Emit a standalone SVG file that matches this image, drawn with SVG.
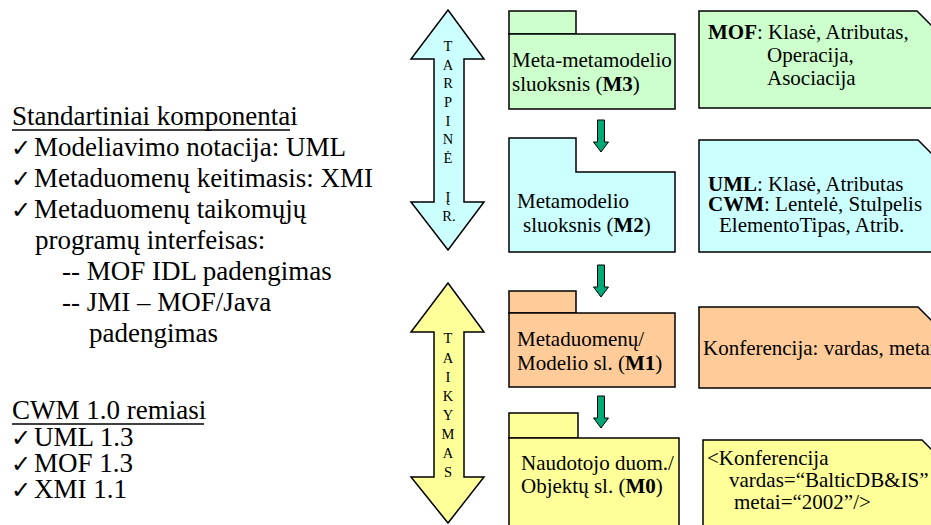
<svg xmlns="http://www.w3.org/2000/svg" width="931" height="525" viewBox="0 0 931 525">
  <style>
    text { font-family: "Liberation Serif", "Times New Roman", serif; fill: #000; }
    .big { font-size: 27px; }
    .box { font-size: 21px; }
    .vert { font-size: 14.5px; text-anchor: middle; }
    .chk { font-family: "DejaVu Sans", sans-serif; font-size: 24px; font-weight: bold; }
    .b { font-weight: bold; }
    .edge { stroke: #000; stroke-width: 1.5; }
    .m3 { fill: #ccffcc; }
    .m2 { fill: #ccffff; }
    .m1 { fill: #ffcc99; }
    .m0 { fill: #ffff99; }
    .flow { fill: #00a878; stroke: #000; stroke-width: 1; }
  </style>
  <defs>
    <!-- small downward block arrow between levels -->
    <path id="down" d="M-3.5,0 H3.5 V22 H7.5 L0,32 L-7.5,22 H-3.5 Z"/>
  </defs>

  <!-- left column: component lists -->
  <g id="standards">
    <text class="big" x="12" y="125">Standartiniai komponentai</text>
    <line x1="12" y1="130" x2="290" y2="130" stroke="#000" stroke-width="1.5"/>
    <text class="chk" x="11" y="156">✓</text>
    <text class="big" x="34" y="156">Modeliavimo notacija: UML</text>
    <text class="chk" x="11" y="187">✓</text>
    <text class="big" x="34" y="187">Metaduomenų keitimasis: XMI</text>
    <text class="chk" x="11" y="218">✓</text>
    <text class="big" x="34" y="218">Metaduomenų taikomųjų</text>
    <text class="big" x="35" y="249">programų interfeisas:</text>
    <text class="big" x="62" y="280">-- MOF IDL padengimas</text>
    <text class="big" x="62" y="311">-- JMI – MOF/Java</text>
    <text class="big" x="89" y="342">padengimas</text>
  </g>
  <g id="cwm-basis">
    <text class="big" x="12" y="419">CWM 1.0 remiasi</text>
    <line x1="12" y1="424" x2="204" y2="424" stroke="#000" stroke-width="1.5"/>
    <text class="chk" x="11" y="446">✓</text>
    <text class="big" x="34" y="446">UML 1.3</text>
    <text class="chk" x="11" y="472">✓</text>
    <text class="big" x="34" y="472">MOF 1.3</text>
    <text class="chk" x="11" y="498">✓</text>
    <text class="big" x="34" y="498">XMI 1.1</text>
  </g>

  <!-- vertical double arrows -->
  <g id="tarpine">
    <polygon class="edge m2" points="448,10 484,59 464,59 464,202 484,202 448,250 411,202 434,202 434,59 411,59"/>
    <text class="vert" x="448" y="51">T</text>
    <text class="vert" x="448" y="70">A</text>
    <text class="vert" x="448" y="88">R</text>
    <text class="vert" x="448" y="107">P</text>
    <text class="vert" x="448" y="126">I</text>
    <text class="vert" x="448" y="144">N</text>
    <text class="vert" x="448" y="163">Ė</text>
    <text class="vert" x="448" y="202">Į</text>
    <text class="vert" x="449" y="221">R.</text>
  </g>
  <g id="taikymas">
    <polygon class="edge m0" points="448,283 484,332 464,332 464,477 484,477 448,523 411,477 434,477 434,332 411,332"/>
    <text class="vert" x="448" y="343">T</text>
    <text class="vert" x="448" y="363">A</text>
    <text class="vert" x="448" y="382">I</text>
    <text class="vert" x="448" y="401">K</text>
    <text class="vert" x="448" y="420">Y</text>
    <text class="vert" x="448" y="439">M</text>
    <text class="vert" x="448" y="458">A</text>
    <text class="vert" x="448" y="477">S</text>
  </g>

  <!-- level packages -->
  <g id="m3">
    <rect class="edge m3" x="509" y="11" width="67" height="23"/>
    <rect class="edge m3" x="509" y="34" width="166" height="75"/>
    <text class="box" x="512" y="67">Meta-metamodelio</text>
    <text class="box" x="512" y="91">sluoksnis (<tspan class="b">M3</tspan>)</text>
  </g>
  <g id="m2">
    <path class="edge m2" d="M509,138 H576 V172 H675 V252 H509 Z"/>
    <text class="box" x="517" y="208">Metamodelio</text>
    <text class="box" x="523" y="232">sluoksnis (<tspan class="b">M2</tspan>)</text>
  </g>
  <g id="m1">
    <rect class="edge m1" x="509" y="291" width="67" height="22"/>
    <rect class="edge m1" x="509" y="313" width="166" height="74"/>
    <text class="box" x="517" y="346">Metaduomenų/</text>
    <text class="box" x="517" y="370">Modelio sl. (<tspan class="b">M1</tspan>)</text>
  </g>
  <g id="m0">
    <rect class="edge m0" x="509" y="413" width="69" height="25"/>
    <rect class="edge m0" x="509" y="438" width="170" height="100"/>
    <text class="box" x="521" y="470">Naudotojo duom./</text>
    <text class="box" x="521" y="493">Objektų sl. (<tspan class="b">M0</tspan>)</text>
  </g>

  <!-- example notes -->
  <g id="note-m3">
    <polygon class="edge m3" points="699,11 917,11 961,55 961,108 699,108"/>
    <text class="box" x="708" y="39"><tspan class="b">MOF</tspan>: Klasė, Atributas,</text>
    <text class="box" x="767" y="62">Operacija,</text>
    <text class="box" x="767" y="85">Asociacija</text>
  </g>
  <g id="note-m2">
    <polygon class="edge m2" points="699,140 918,140 962,184 962,252 699,252"/>
    <text class="box" x="708" y="191"><tspan class="b">UML</tspan>: Klasė, Atributas</text>
    <text class="box" x="708" y="211"><tspan class="b">CWM</tspan>: Lentelė, Stulpelis</text>
    <text class="box" x="719" y="232">ElementoTipas, Atrib.</text>
  </g>
  <g id="note-m1">
    <polygon class="edge m1" points="699,307 918,307 962,351 962,388 699,388"/>
    <text class="box" x="703" y="355">Konferencija: vardas, metai</text>
  </g>
  <g id="note-m0">
    <polygon class="edge m0" points="703,440 922,440 966,484 966,540 703,540"/>
    <text class="box" x="707" y="465">&lt;Konferencija</text>
    <text class="box" x="729" y="487">vardas=“BalticDB&amp;IS”</text>
    <text class="box" x="734" y="509">metai=“2002”/&gt;</text>
  </g>

  <!-- level-to-level arrows -->
  <g id="connectors">
    <use href="#down" class="flow" x="601" y="120"/>
    <use href="#down" class="flow" x="601" y="265"/>
    <use href="#down" class="flow" x="601" y="396"/>
  </g>
</svg>
